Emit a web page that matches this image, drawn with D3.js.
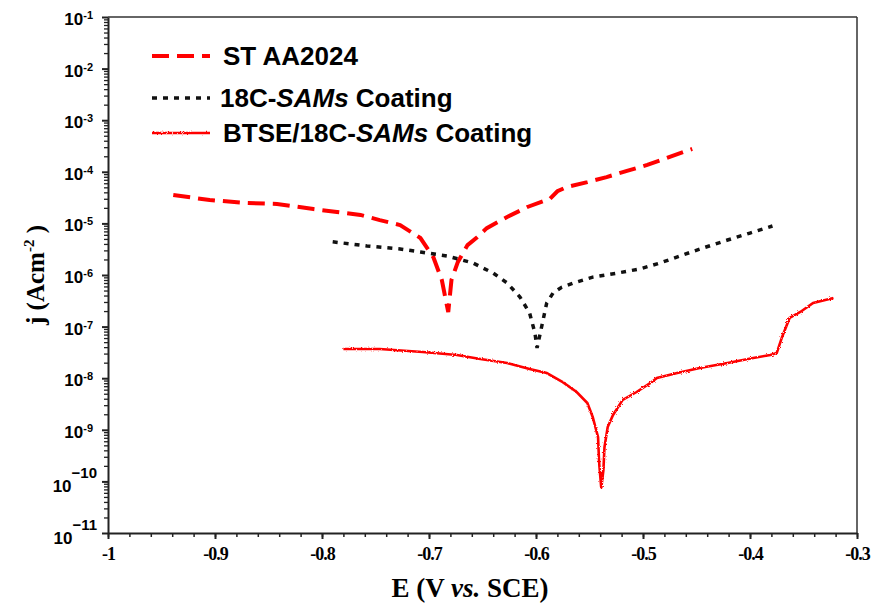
<!DOCTYPE html>
<html><head><meta charset="utf-8">
<script src="https://cdn.jsdelivr.net/npm/d3@7"></script>
<style>body{margin:0;background:#fff}svg{display:block}</style>
</head><body><svg id="c" width="877" height="605"></svg>
<script>
// ---- data ----
const seriesNames = ["ST AA2024", "18C-SAMs Coating", "BTSE/18C-SAMs Coating"];

const E_ST = [-0.939,-0.905,-0.870,-0.842,-0.808,-0.786,-0.764,-0.746,-0.727,-0.708,-0.696,-0.688,-0.683,-0.682,-0.679,-0.673,-0.664,-0.655,-0.646,-0.627,-0.608,-0.587,-0.580,-0.571,-0.552,-0.534,-0.515,-0.496,-0.478,-0.454];
const J_ST = [3.55e-5,2.84e-5,2.48e-5,2.38e-5,1.90e-5,1.66e-5,1.46e-5,1.16e-5,9.3e-6,5.2e-6,2.23e-6,8.0e-7,2.4e-7,1.92e-7,8.0e-7,1.79e-6,3.8e-6,5.4e-6,8.1e-6,1.33e-5,2.08e-5,3.0e-5,4.2e-5,5.1e-5,6.3e-5,7.9e-5,1.04e-4,1.36e-4,1.85e-4,2.77e-4];

const E_18C = [-0.790,-0.758,-0.727,-0.708,-0.683,-0.659,-0.640,-0.627,-0.615,-0.606,-0.601,-0.599,-0.594,-0.590,-0.584,-0.576,-0.565,-0.547,-0.524,-0.503,-0.484,-0.463,-0.444,-0.421,-0.400,-0.379];
const J_18C = [4.4e-6,3.65e-6,3.19e-6,2.79e-6,2.33e-6,1.71e-6,1.09e-6,7.0e-7,3.75e-7,1.84e-7,7.5e-8,3.85e-8,1.17e-7,2.86e-7,4.5e-7,5.8e-7,7.0e-7,9.1e-7,1.09e-6,1.31e-6,1.71e-6,2.44e-6,3.33e-6,4.76e-6,6.5e-6,8.9e-6];

const E_BTSE = [-0.780,-0.746,-0.706,-0.674,-0.652,-0.627,-0.606,-0.590,-0.575,-0.562,-0.552,-0.547,-0.542,-0.541,-0.539,-0.537,-0.536,-0.533,-0.528,-0.519,-0.506,-0.493,-0.487,-0.468,-0.447,-0.421,-0.397,-0.381,-0.375,-0.370,-0.363,-0.353,-0.341,-0.322];
const J_BTSE = [3.68e-8,3.68e-8,3.22e-8,2.82e-8,2.36e-8,1.97e-8,1.51e-8,1.26e-8,8.4e-9,5.4e-9,3.3e-9,1.77e-9,7.2e-10,2.28e-10,7.4e-11,1.66e-10,4.6e-10,1.13e-9,1.94e-9,3.8e-9,5.4e-9,8.1e-9,1.01e-8,1.26e-8,1.58e-8,1.97e-8,2.47e-8,2.82e-8,3.08e-8,6.3e-8,1.47e-7,1.92e-7,2.86e-7,3.58e-7];

const xTickValues = [-1,-0.9,-0.8,-0.7,-0.6,-0.5,-0.4,-0.3];
const xTickLabels = ["-1","-0.9","-0.8","-0.7","-0.6","-0.5","-0.4","-0.3"];
const yExponents = [-1,-2,-3,-4,-5,-6,-7,-8,-9,-10,-11];

// ---- layout ----
const svg = d3.select("#c");
const L = 108, R = 857, T = 17, B = 533;
const x = d3.scaleLinear().domain([-1, -0.3]).range([L, R]);
const y = d3.scaleLog().domain([1e-11, 1e-1]).range([B, T]);

const defs = svg.append("defs");
const f = defs.append("filter").attr("id","rough").attr("filterUnits","userSpaceOnUse")
  .attr("x",0).attr("y",0).attr("width",877).attr("height",605);
f.append("feTurbulence").attr("type","fractalNoise").attr("baseFrequency","0.8").attr("numOctaves",1).attr("seed",3).attr("result","n");
f.append("feDisplacementMap").attr("in","SourceGraphic").attr("in2","n").attr("scale",3);

// frame (top + right)
svg.append("line").attr("x1",L).attr("x2",R).attr("y1",T).attr("y2",T).attr("stroke","#333").attr("stroke-width",1.5);
svg.append("line").attr("x1",R).attr("x2",R).attr("y1",T).attr("y2",B).attr("stroke","#333").attr("stroke-width",1.5);

// x axis: minor ticks every 0.02
const xMinor = d3.range(-1, -0.2999, 0.02).map(v => +v.toFixed(2));
svg.append("g").attr("transform",`translate(0,${B})`)
  .call(d3.axisBottom(x).tickValues(xMinor).tickSize(4).tickFormat(""))
  .call(g => g.selectAll(".tick line").attr("stroke","#222").attr("stroke-width",1.5))
  .call(g => g.select(".domain").remove());
svg.append("g").attr("transform",`translate(0,${B})`)
  .call(d3.axisBottom(x).tickValues(xTickValues).tickSize(6).tickSizeOuter(0)
        .tickFormat((d,i) => xTickLabels[i]))
  .call(g => g.select(".domain").attr("stroke","#222").attr("stroke-width",2))
  .call(g => g.selectAll(".tick line").attr("stroke","#222").attr("stroke-width",2))
  .call(g => g.selectAll(".tick text")
     .attr("y", 22).attr("dy", "0.3em")
     .attr("font-family","'Liberation Serif','Times New Roman',serif")
     .attr("font-weight","bold").attr("font-size",18).attr("letter-spacing","-1px")
     .attr("fill","#000"));

// y axis: log minor ticks
const yMinor = [];
for (let e = -11; e < -1; e++) for (let m = 2; m <= 9; m++) yMinor.push(m * Math.pow(10, e));
svg.append("g").attr("transform",`translate(${L},0)`)
  .call(d3.axisLeft(y).tickValues(yMinor).tickSize(4).tickFormat(""))
  .call(g => g.selectAll(".tick line").attr("stroke","#222").attr("stroke-width",1.3))
  .call(g => g.select(".domain").remove());
svg.append("g").attr("transform",`translate(${L},0)`)
  .call(d3.axisLeft(y).tickValues(yExponents.map(e => Math.pow(10, e))).tickSize(6).tickSizeOuter(0).tickFormat(""))
  .call(g => g.select(".domain").attr("stroke","#222").attr("stroke-width",2))
  .call(g => g.selectAll(".tick line").attr("stroke","#222").attr("stroke-width",2));

// y tick labels 10^n
const yl = svg.append("g").attr("font-family","'Liberation Sans',Arial,sans-serif").attr("font-weight","bold").attr("fill","#000");
yExponents.forEach(e => {
  const yy = y(Math.pow(10, e));
  const big = e <= -10;
  const t = yl.append("text").attr("text-anchor","end")
    .attr("x", big ? 97 : 93).attr("y", yy + (big ? 11 : 8)).attr("font-size",17);
  t.append("tspan").text("10");
  t.append("tspan").attr("font-size", big ? 15 : 11).attr("dy", big ? -14 : -6)
    .text(big ? "\u2212" + (-e) : "-" + (-e));
});

// axis titles
svg.append("text").attr("x",470).attr("y",597).attr("text-anchor","middle")
  .attr("font-family","'Liberation Serif','Times New Roman',serif").attr("font-weight","bold")
  .attr("font-size",27).attr("fill","#000")
  .call(t => { t.append("tspan").text("E (V "); t.append("tspan").attr("font-style","italic").text("vs."); t.append("tspan").text(" SCE)"); });
svg.append("text").attr("transform","translate(44,275) rotate(-90)").attr("text-anchor","middle")
  .attr("font-family","'Liberation Serif','Times New Roman',serif").attr("font-weight","bold")
  .attr("font-size",25).attr("fill","#000")
  .call(t => { t.append("tspan").text("j (Acm"); t.append("tspan").attr("font-size",15).attr("dy",-10).text("-2"); t.append("tspan").attr("dy",10).text(" )"); });

// curves
const line = d3.line().x(d => x(d[0])).y(d => y(d[1]));
const zip = (a, b) => a.map((v, i) => [v, b[i]]);
const series = [
  {data: zip(E_ST, J_ST), color: "#ff0000", width: 4, dash: "17,8", filter: null},
  {data: zip(E_18C, J_18C), color: "#111", width: 3.5, dash: "5,6", filter: null},
  {data: zip(E_BTSE, J_BTSE), color: "#ff0000", width: 2.6, dash: null, filter: "url(#rough)"}
];
svg.append("g").selectAll("path").data(series).join("path")
  .attr("d", d => line(d.data)).attr("fill","none")
  .attr("stroke", d => d.color).attr("stroke-width", d => d.width)
  .attr("stroke-dasharray", d => d.dash).attr("filter", d => d.filter);

// legend
const legY = [56, 98, 133];
const lg = svg.append("g");
series.forEach((s, i) => {
  lg.append("line").attr("x1",152).attr("x2",210).attr("y1",legY[i]).attr("y2",legY[i])
    .attr("stroke", s.color).attr("stroke-width", s.width)
    .attr("stroke-dasharray", s.dash).attr("filter", s.filter);
  const t = lg.append("text").attr("x", i === 1 ? 220 : 223).attr("y", legY[i] + 9)
    .attr("font-family","'Liberation Sans',Arial,sans-serif").attr("font-weight","bold")
    .attr("font-size",26).attr("fill","#000");
  const name = seriesNames[i];
  const k = name.indexOf("SAMs");
  if (k < 0) t.text(name);
  else {
    t.append("tspan").text(name.slice(0, k));
    t.append("tspan").attr("font-style","italic").text("SAMs");
    t.append("tspan").text(name.slice(k + 4));
  }
});
</script></body></html>
